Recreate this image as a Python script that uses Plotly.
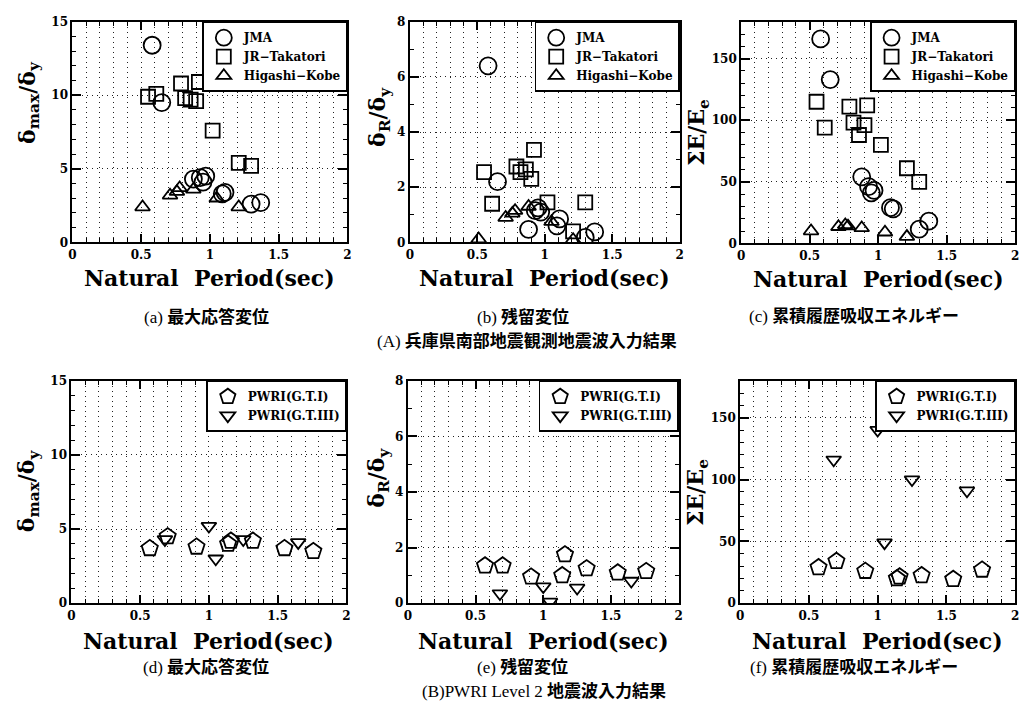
import plotly.graph_objects as go

# ---------------- data ----------------
# Upper row: observed Hyogo-ken Nanbu records
JMA_T = [0.58, 0.65, 0.88, 0.93, 0.95, 0.97, 1.09, 1.11, 1.30, 1.37]
JMA_DMAX = [13.4, 9.5, 4.3, 4.4, 4.1, 4.5, 3.3, 3.4, 2.6, 2.7]
JMA_DR = [6.4, 2.2, 0.47, 1.15, 1.25, 1.1, 0.6, 0.85, 0.18, 0.38]
JMA_E = [166, 133, 54, 46, 41, 43, 29, 28, 11.5, 18]

JRT_T = [0.55, 0.61, 0.79, 0.82, 0.86, 0.90, 0.92, 1.02, 1.21, 1.30]
JRT_DMAX = [9.9, 10.1, 10.8, 9.8, 9.7, 9.6, 10.9, 7.6, 5.4, 5.2]
JRT_DR = [2.55, 1.4, 2.75, 2.55, 2.65, 2.3, 3.35, 1.45, 0.4, 1.45]
JRT_E = [115, 94, 111, 98, 88, 96, 112, 80, 61, 50]

HK_T = [0.51, 0.71, 0.76, 0.78, 0.88, 1.05, 1.21]
HK_DMAX = [2.4, 3.2, 3.45, 3.7, 3.6, 3.0, 2.4]
HK_DR = [0.12, 0.9, 1.05, 1.15, 1.3, 0.75, 0.1]
HK_E = [10, 13.5, 15, 14, 12.5, 9, 5.5]

# Lower row: PWRI Level 2 design ground motions
P1_T = [0.57, 0.70, 0.91, 1.14, 1.16, 1.32, 1.55, 1.76]
P1_DMAX = [3.7, 4.5, 3.8, 4.0, 4.2, 4.2, 3.7, 3.5]
P1_DR = [1.35, 1.35, 0.95, 1.0, 1.75, 1.25, 1.1, 1.15]
P1_E = [29, 34, 26, 20, 21.5, 22.5, 19.5, 27]

P3_T = [0.68, 1.00, 1.05, 1.25, 1.65]
P3_DMAX = [4.3, 5.2, 3.0, 4.3, 4.1]
P3_DR = [0.35, 0.6, 0.05, 0.55, 0.8]
P3_E = [116, 140, 49, 100, 91]

X_TITLE = "Natural\u00a0\u00a0Period(sec)"
Y_TITLES = ["δ<sub>max</sub>/δ<sub>y</sub>", "δ<sub>R</sub>/δ<sub>y</sub>", "ΣE/E<sub>e</sub>"]
CAPTIONS_TOP = [("(a)", "最大応答変位"), ("(b)", "残留変位"), ("(c)", "累積履歴吸収エネルギー")]
CAPTIONS_BOT = [("(d)", "最大応答変位"), ("(e)", "残留変位"), ("(f)", "累積履歴吸収エネルギー")]
GROUP_A = ("(A)", "兵庫県南部地震観測地震波入力結果")
GROUP_B = ("(B)PWRI Level 2", "地震波入力結果")

# ---------------- layout helpers ----------------
W, H = 1028, 726
SERIF = "DejaVu Serif"
CAP_FONT = "Liberation Serif, Noto Sans CJK JP"


def fx(p):
    return p / W


def fy(p):
    return 1 - p / H


def caption(parts):
    head, jp = parts
    return f"{head} <b>{jp}</b>"


# pixel boxes (left, right, top, bottom) of the six plotting areas
BOXES = [
    (69, 346, 15, 240), (409, 681, 15, 240), (743, 1019, 15, 241),
    (68, 345, 381, 608), (407, 680, 381, 608), (742, 1019, 381, 608),
]
# y range, major step, minor step for each measure
YSPEC = [(15, 5, 1), (8, 2, 1), (180, 50, 10)]

TICKFONT = dict(family=SERIF, size=12, color="black", weight="bold")
GRID = "#222222"
DOTS = "1px,4px"

fig = go.Figure()
layout = dict(
    width=W, height=H, margin=dict(l=0, r=0, t=0, b=0),
    paper_bgcolor="white", plot_bgcolor="white", showlegend=True,
    annotations=[],
)

top_series = [
    ("JMA", "circle-open", 17, JMA_T, [JMA_DMAX, JMA_DR, JMA_E]),
    ("JR−Takatori", "square-open", 14, JRT_T, [JRT_DMAX, JRT_DR, JRT_E]),
    ("Higashi−Kobe", "triangle-up-open", 13, HK_T, [HK_DMAX, HK_DR, HK_E]),
]
bot_series = [
    ("PWRI(G.T.I)", "pentagon-open", 17, P1_T, [P1_DMAX, P1_DR, P1_E]),
    ("PWRI(G.T.III)", "triangle-down-open", 13, P3_T, [P3_DMAX, P3_DR, P3_E]),
]

for i, (l, r, t, b) in enumerate(BOXES):
    n = i + 1
    sfx = "" if n == 1 else str(n)
    col = i % 3
    ymax, ymaj, ymin = YSPEC[col]
    layout["xaxis" + sfx] = dict(
        domain=[fx(l), fx(r)], anchor="y" + sfx, range=[0, 2],
        tick0=0, dtick=0.5, showline=True, linecolor="black", linewidth=2,
        mirror="ticks", ticks="inside", ticklen=8, tickwidth=1.5, tickcolor="black",
        showgrid=True, gridcolor=GRID, gridwidth=1.3, griddash=DOTS,
        minor=dict(dtick=0.1, tick0=0, ticks="inside", ticklen=4, tickwidth=1,
                   tickcolor="black", showgrid=True, gridcolor=GRID,
                   gridwidth=1.3, griddash=DOTS),
        tickfont=TICKFONT, zeroline=False, fixedrange=True,
    )
    layout["yaxis" + sfx] = dict(
        domain=[fy(b), fy(t)], anchor="x" + sfx, range=[0, ymax],
        tick0=0, dtick=ymaj, showline=True, linecolor="black", linewidth=2,
        mirror="ticks", ticks="inside", ticklen=9, tickwidth=2, tickcolor="black",
        showgrid=True, gridcolor=GRID, gridwidth=1.3, griddash=DOTS,
        minor=dict(dtick=ymin, tick0=0, ticks="inside", ticklen=4, tickwidth=1,
                   tickcolor="black", showgrid=False),
        tickfont=TICKFONT, zeroline=False, fixedrange=True,
    )

    series = top_series if i < 3 else bot_series
    leg = "legend" if n == 1 else "legend" + str(n)
    for name, sym, size, xs, ys in series:
        fig.add_trace(go.Scatter(
            x=xs, y=ys[col], mode="markers", name=name,
            xaxis="x" + sfx, yaxis="y" + sfx, legend=leg,
            marker=dict(symbol=sym, size=size, color="black",
                        line=dict(width=1.8, color="black")),
            hoverinfo="skip",
        ))
    layout[leg] = dict(
        x=fx(r), y=fy(t), xanchor="right", yanchor="top",
        bgcolor="white", bordercolor="black", borderwidth=1.5,
        font=dict(family=SERIF, size=12, color="black", weight="bold"),
        itemsizing="trace", tracegroupgap=0, itemwidth=30,
    )

    # x-axis title
    layout["annotations"].append(dict(
        text=X_TITLE, x=fx((l + r) / 2), y=fy(b + (36 if i < 3 else 38)),
        xref="paper", yref="paper",
        xanchor="center", yanchor="middle", showarrow=False,
        font=dict(family=SERIF, size=22, color="black", weight="bold"),
    ))

# y-axis titles (rotated)
YT_POS = [(25, 97), (378, 112), (699, 128), (25, 493), (377, 480), (699, 495)]
for i, (px, py) in enumerate(YT_POS):
    layout["annotations"].append(dict(
        text="<b>" + Y_TITLES[i % 3] + "</b>", x=fx(px), y=fy(py),
        xref="paper", yref="paper", xanchor="center", yanchor="middle",
        textangle=-90, showarrow=False,
        font=dict(family=SERIF, size=22, color="black"),
    ))

# sub-figure captions
CAP_X = [204, 523, 857]
for j in range(3):
    layout["annotations"].append(dict(
        text=caption(CAPTIONS_TOP[j]), x=fx(CAP_X[j]), y=fy(316),
        xref="paper", yref="paper",
        xanchor="center", yanchor="middle", showarrow=False,
        font=dict(family=CAP_FONT, size=17, color="black"),
    ))
    layout["annotations"].append(dict(
        text=caption(CAPTIONS_BOT[j]), x=fx(CAP_X[j]), y=fy(673),
        xref="paper", yref="paper",
        xanchor="center", yanchor="middle", showarrow=False,
        font=dict(family=CAP_FONT, size=17, color="black"),
    ))
layout["annotations"].append(dict(
    text=caption(GROUP_A), x=fx(527), y=fy(341), xref="paper", yref="paper",
    xanchor="center", yanchor="middle", showarrow=False,
    font=dict(family=CAP_FONT, size=17, color="black"),
))
layout["annotations"].append(dict(
    text=caption(GROUP_B), x=fx(544), y=fy(697), xref="paper", yref="paper",
    xanchor="center", yanchor="middle", showarrow=False,
    font=dict(family=CAP_FONT, size=17, color="black"),
))

fig.update_layout(**layout)
fig.write_html("out.html")
